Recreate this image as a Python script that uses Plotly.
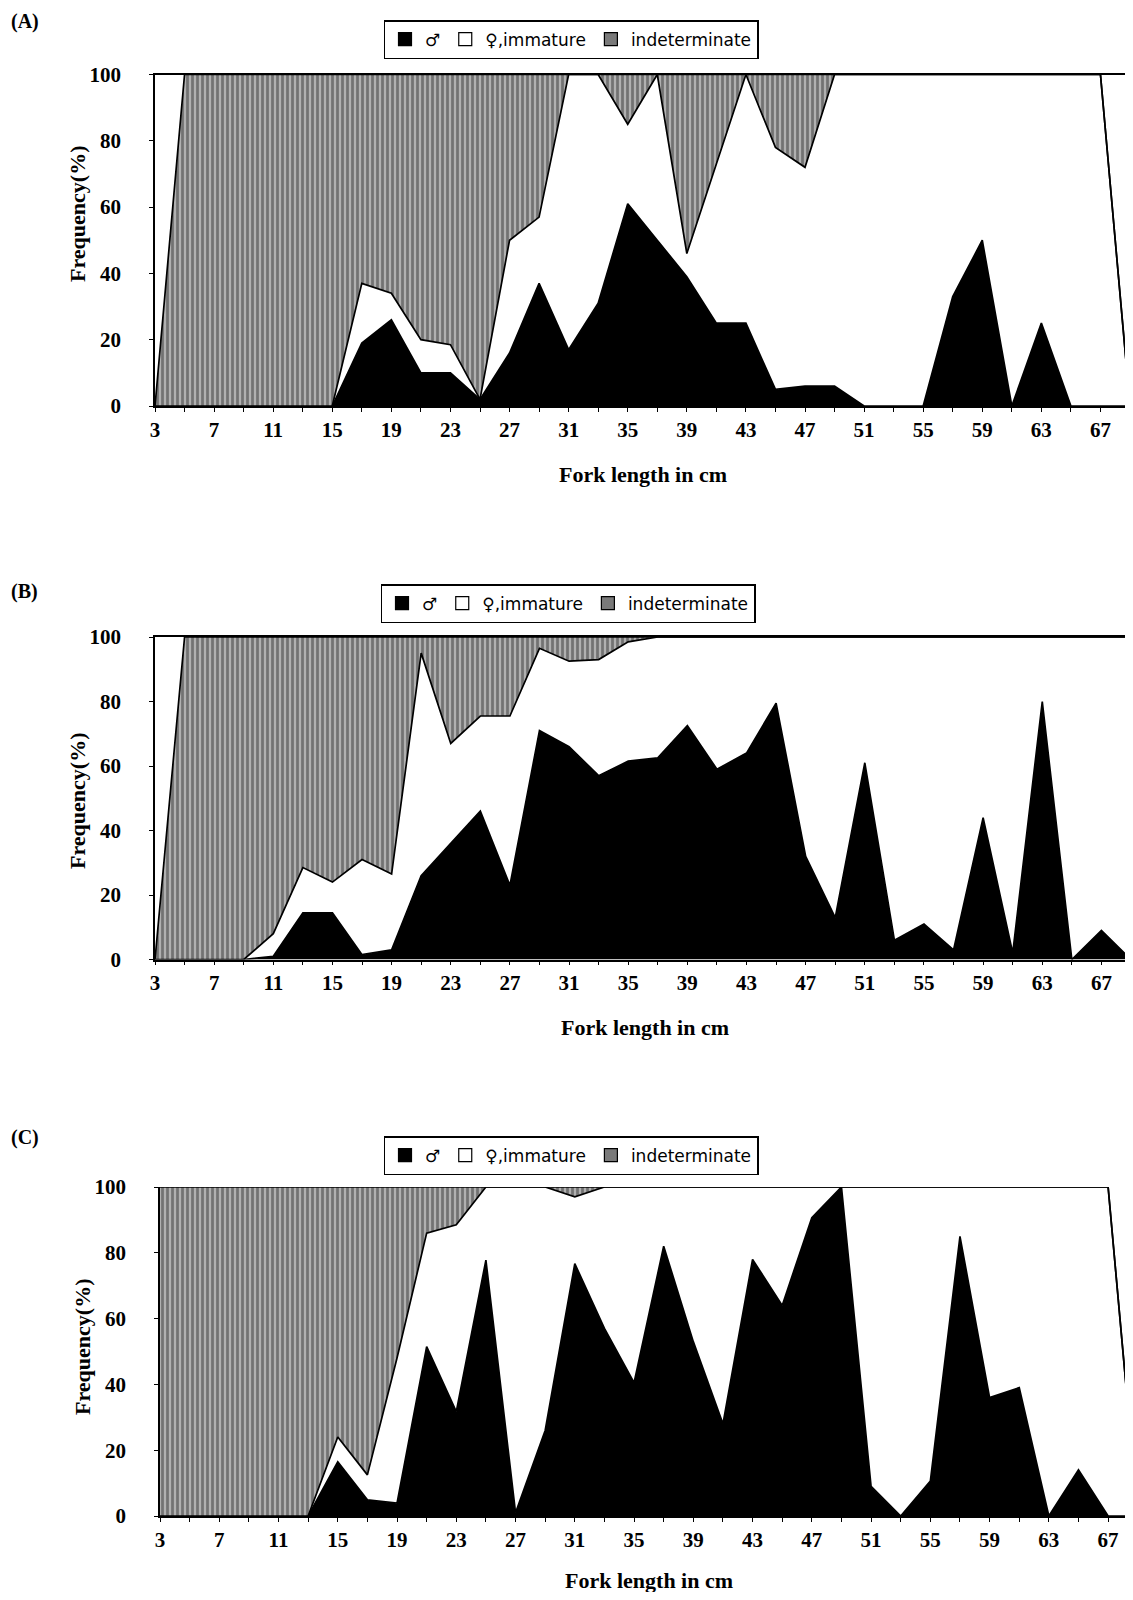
import plotly.graph_objects as go

# page body has an 8px margin: the figure is drawn from (8, 8)
OFF = 8
W, H = 1125, 1584

# ---------------- data ----------------
fork_length = [3, 5, 7, 9, 11, 13, 15, 17, 19, 21, 23, 25, 27, 29, 31, 33, 35,
               37, 39, 41, 43, 45, 47, 49, 51, 53, 55, 57, 59, 61, 63, 65, 67, 69]
tick_vals = fork_length
tick_text = ["3", "", "7", "", "11", "", "15", "", "19", "", "23", "", "27", "", "31", "",
             "35", "", "39", "", "43", "", "47", "", "51", "", "55", "", "59", "", "63", "",
             "67", ""]
y_ticks = [0, 20, 40, 60, 80, 100]
series_names = ["\u2642", "\u2640,immature", "indeterminate"]

# Panel A (%)
a_male = [0, 0, 0, 0, 0, 0, 0, 19, 26, 10, 10, 2, 16, 37, 17, 31, 61,
          50, 39, 25, 25, 5, 6, 6, 0, 0, 0, 33, 50, 0, 25, 0, 0, 0]
a_female = [0, 0, 0, 0, 0, 0, 0, 18, 8, 10, 8.5, 0, 34, 20, 83, 69, 24,
            50, 7, 48, 75, 73, 66, 94, 100, 100, 100, 67, 50, 100, 75, 100, 100, 0]
a_indet = [0, 100, 100, 100, 100, 100, 100, 63, 66, 80, 81.5, 98, 50, 43, 0, 0, 15,
           0, 54, 27, 0, 22, 28, 0, 0, 0, 0, 0, 0, 0, 0, 0, 0, 0]

# Panel B (%)
b_male = [0, 0, 0, 0, 1, 14.5, 14.5, 1.5, 3, 26, 36, 46, 23, 71, 66, 57, 61.5,
          62.5, 72.5, 59, 64, 79.5, 32, 13, 61, 6, 11, 3, 44, 2, 80, 0, 9, 0]
b_female = [0, 0, 0, 0, 7, 14, 9.5, 29.5, 23.5, 69, 31, 29.5, 52.5, 25.5, 26.5, 36, 37,
            37.5, 27.5, 41, 36, 20.5, 68, 87, 39, 94, 89, 97, 56, 98, 20, 100, 91, 100]
b_indet = [0, 100, 100, 100, 92, 71.5, 76, 69, 73.5, 5, 33, 24.5, 24.5, 3.5, 7.5, 7, 1.5,
           0, 0, 0, 0, 0, 0, 0, 0, 0, 0, 0, 0, 0, 0, 0, 0, 0]

# Panel C (%)
c_male = [0, 0, 0, 0, 0, 0, 16.5, 4.9, 3.9, 51.5, 31.7, 77.8, 1, 26, 76.7, 57, 40.5,
          82, 53, 28, 78, 64, 90.7, 100, 9, 0, 10.6, 85, 36, 39, 0, 14, 0, 0]
c_female = [0, 0, 0, 0, 0, 0, 7.5, 7.6, 44.1, 34.5, 56.8, 22.2, 99, 74, 20.3, 43, 59.5,
            18, 47, 72, 22, 36, 9.3, 0, 91, 100, 89.4, 15, 64, 61, 100, 86, 100, 0]
c_indet = [100, 100, 100, 100, 100, 100, 76, 87.5, 52, 14, 11.5, 0, 0, 0, 3, 0, 0,
           0, 0, 0, 0, 0, 0, 0, 0, 0, 0, 0, 0, 0, 0, 0, 0, 0]

# target page-pixel positions
panels = [
    dict(label="(A)", male=a_male, female=a_female, indet=a_indet,
         px=(155, 1130), py=(74.5, 406), xr=(3, 69), right=True,
         leg=(571, 20), lab=(25, 21), xt=(643, 475), yt=(77, 214)),
    dict(label="(B)", male=b_male, female=b_female, indet=b_indet,
         px=(155, 1131), py=(637, 959.5), xr=(3, 69), right=True,
         leg=(568, 584), lab=(24, 591), xt=(645, 1027), yt=(77, 801)),
    dict(label="(C)", male=c_male, female=c_female, indet=c_indet,
         px=(160, 1133), py=(1187, 1516), xr=(3, 68.68), right=False,
         leg=(571, 1136), lab=(25, 1137), xt=(649, 1580), yt=(82, 1347)),
]


def fx(px):
    return (px - OFF) / W


def fy(py):
    return 1 - (py - OFF) / H


SERIF = "Liberation Serif, Times New Roman, serif"
SANS = "DejaVu Sans, Verdana, sans-serif"

fig = go.Figure()
layout = dict(width=W, height=H, margin=dict(l=0, r=0, t=0, b=0, autoexpand=False),
              paper_bgcolor="white", plot_bgcolor="white", showlegend=True)
annotations = []

gray_pattern = dict(shape="|", bgcolor="#b0b0b0", fgcolor="#333333", size=5, solidity=0.55)
legend_fill = ["black", "white", "#7a7a7a"]

for i, p in enumerate(panels):
    n = "" if i == 0 else str(i + 1)
    xa, ya = "x" + n, "y" + n
    leg = "legend" + n
    sg = "s" + str(i)
    common = dict(x=fork_length, xaxis=xa, yaxis=ya, mode="lines", stackgroup=sg,
                  showlegend=False, line=dict(color="black", width=1.7), hoverinfo="skip")
    fig.add_trace(go.Scatter(y=p["male"], name=series_names[0], fillcolor="black", **common))
    fig.add_trace(go.Scatter(y=p["female"], name=series_names[1], fillcolor="white", **common))
    fig.add_trace(go.Scatter(y=p["indet"], name=series_names[2], fillcolor="#7a7a7a",
                             fillpattern=gray_pattern, **common))
    # legend entries (square swatches)
    for name, col in zip(series_names, legend_fill):
        fig.add_trace(go.Scatter(x=[None], y=[None], xaxis=xa, yaxis=ya, mode="markers",
                                 name=name, legend=leg, showlegend=True,
                                 marker=dict(symbol="square", size=13, color=col,
                                             line=dict(color="black", width=1.2))))

    layout["xaxis" + n] = dict(
        domain=[fx(p["px"][0]), min(1.0, fx(p["px"][1]))], range=list(p["xr"]), anchor=ya,
        tickmode="array", tickvals=tick_vals, ticktext=tick_text, ticks="outside", ticklen=4,
        tickwidth=1, tickcolor="black", showline=True, linecolor="black", linewidth=1.5,
        mirror=p["right"], showgrid=False, zeroline=False, automargin=False,
        tickfont=dict(family=SERIF, size=21, color="black", weight="bold"),
        ticklabelstandoff=0)
    layout["yaxis" + n] = dict(
        domain=[fy(p["py"][1]), fy(p["py"][0])], range=[0, 100], anchor=xa, tickmode="array",
        tickvals=y_ticks, ticks="outside", ticklen=4, tickwidth=1, tickcolor="black",
        showline=True, linecolor="black", linewidth=1.5, mirror=p["right"], showgrid=False,
        zeroline=False, automargin=False,
        tickfont=dict(family=SERIF, size=21, color="black", weight="bold"),
        ticklabelstandoff=24)
    layout[leg] = dict(
        orientation="h", x=fx(p["leg"][0]), y=fy(p["leg"][1]), xanchor="center",
        yanchor="top", bordercolor="black", borderwidth=1.5, bgcolor="white",
        font=dict(family=SANS, size=17, color="black"), traceorder="normal",
        itemwidth=30)
    ann = dict(xref="paper", yref="paper", showarrow=False, xanchor="center", yanchor="middle")
    annotations.append(dict(text="<b>%s</b>" % p["label"], x=fx(p["lab"][0]), y=fy(p["lab"][1]),
                            font=dict(family=SERIF, size=20, color="black"), **ann))
    annotations.append(dict(text="<b>Fork length in cm</b>", x=fx(p["xt"][0]), y=fy(p["xt"][1]),
                            font=dict(family=SERIF, size=22, color="black"), **ann))
    annotations.append(dict(text="<b>Frequency(%)</b>", x=fx(p["yt"][0]), y=fy(p["yt"][1]),
                            textangle=-90, font=dict(family=SERIF, size=22, color="black"),
                            **ann))

layout["annotations"] = annotations
fig.update_layout(**layout)
fig.write_html("out.html")
